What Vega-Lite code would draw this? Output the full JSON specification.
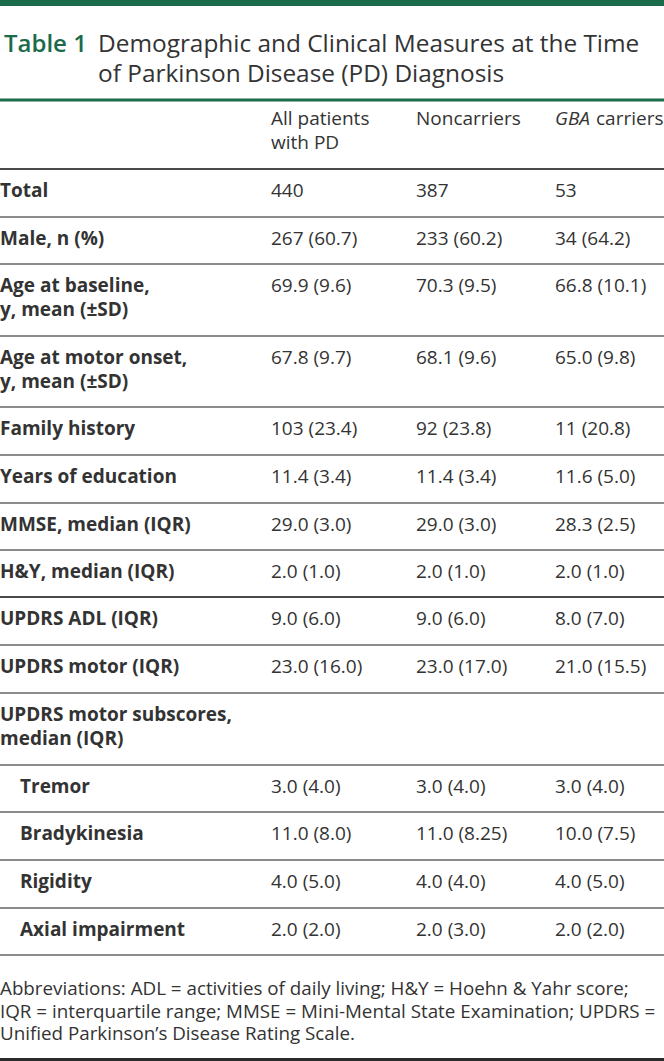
{
  "$schema": "https://vega.github.io/schema/vega-lite/v6.json",
  "width": 664,
  "height": 1061,
  "padding": 0,
  "autosize": {"type": "none"},
  "background": "white",
  "config": {"view": {"stroke": null}, "text": {"font": "Open Sans", "color": "#333333"}},
  "datasets": {
    "rules": [
      {"r": -5, "kind": "topbar"},
      {"r": -3, "kind": "titlerule"},
      {"r": 0, "kind": "head"},
      {"r": 1, "kind": "row"},
      {"r": 2, "kind": "row"},
      {"r": 3, "kind": "row"},
      {"r": 4, "kind": "row"},
      {"r": 5, "kind": "row"},
      {"r": 6, "kind": "row"},
      {"r": 7, "kind": "row"},
      {"r": 8, "kind": "head"},
      {"r": 9, "kind": "row"},
      {"r": 10, "kind": "row"},
      {"r": 11, "kind": "row"},
      {"r": 12, "kind": "row"},
      {"r": 13, "kind": "row"},
      {"r": 14, "kind": "row"},
      {"r": 15, "kind": "row"},
      {"r": 17, "kind": "bottom"}
    ],
    "title": [
      {"r": -4, "c": 0, "part": "num", "t": "Table 1"},
      {"r": -4, "c": 0, "part": "caption", "t": "Demographic and Clinical Measures at the Time\nof Parkinson Disease (PD) Diagnosis"}
    ],
    "header": [
      {"r": -2, "c": 1, "part": "plain", "t": "All patients\nwith PD"},
      {"r": -2, "c": 2, "part": "plain", "t": "Noncarriers"},
      {"r": -2, "c": 3, "part": "gene", "t": "GBA"},
      {"r": -2, "c": 3, "part": "suffix", "t": "carriers"}
    ],
    "cells": [
      {"r": 0, "c": 0, "kind": "label", "t": "Total"},
      {"r": 0, "c": 1, "kind": "value", "t": "440"},
      {"r": 0, "c": 2, "kind": "value", "t": "387"},
      {"r": 0, "c": 3, "kind": "value", "t": "53"},
      {"r": 1, "c": 0, "kind": "label", "t": "Male, n (%)"},
      {"r": 1, "c": 1, "kind": "value", "t": "267 (60.7)"},
      {"r": 1, "c": 2, "kind": "value", "t": "233 (60.2)"},
      {"r": 1, "c": 3, "kind": "value", "t": "34 (64.2)"},
      {"r": 2, "c": 0, "kind": "label", "t": "Age at baseline,\ny, mean (±SD)"},
      {"r": 2, "c": 1, "kind": "value", "t": "69.9 (9.6)"},
      {"r": 2, "c": 2, "kind": "value", "t": "70.3 (9.5)"},
      {"r": 2, "c": 3, "kind": "value", "t": "66.8 (10.1)"},
      {"r": 3, "c": 0, "kind": "label", "t": "Age at motor onset,\ny, mean (±SD)"},
      {"r": 3, "c": 1, "kind": "value", "t": "67.8 (9.7)"},
      {"r": 3, "c": 2, "kind": "value", "t": "68.1 (9.6)"},
      {"r": 3, "c": 3, "kind": "value", "t": "65.0 (9.8)"},
      {"r": 4, "c": 0, "kind": "label", "t": "Family history"},
      {"r": 4, "c": 1, "kind": "value", "t": "103 (23.4)"},
      {"r": 4, "c": 2, "kind": "value", "t": "92 (23.8)"},
      {"r": 4, "c": 3, "kind": "value", "t": "11 (20.8)"},
      {"r": 5, "c": 0, "kind": "label", "t": "Years of education"},
      {"r": 5, "c": 1, "kind": "value", "t": "11.4 (3.4)"},
      {"r": 5, "c": 2, "kind": "value", "t": "11.4 (3.4)"},
      {"r": 5, "c": 3, "kind": "value", "t": "11.6 (5.0)"},
      {"r": 6, "c": 0, "kind": "label", "t": "MMSE, median (IQR)"},
      {"r": 6, "c": 1, "kind": "value", "t": "29.0 (3.0)"},
      {"r": 6, "c": 2, "kind": "value", "t": "29.0 (3.0)"},
      {"r": 6, "c": 3, "kind": "value", "t": "28.3 (2.5)"},
      {"r": 7, "c": 0, "kind": "label", "t": "H&Y, median (IQR)"},
      {"r": 7, "c": 1, "kind": "value", "t": "2.0 (1.0)"},
      {"r": 7, "c": 2, "kind": "value", "t": "2.0 (1.0)"},
      {"r": 7, "c": 3, "kind": "value", "t": "2.0 (1.0)"},
      {"r": 8, "c": 0, "kind": "label", "t": "UPDRS ADL (IQR)"},
      {"r": 8, "c": 1, "kind": "value", "t": "9.0 (6.0)"},
      {"r": 8, "c": 2, "kind": "value", "t": "9.0 (6.0)"},
      {"r": 8, "c": 3, "kind": "value", "t": "8.0 (7.0)"},
      {"r": 9, "c": 0, "kind": "label", "t": "UPDRS motor (IQR)"},
      {"r": 9, "c": 1, "kind": "value", "t": "23.0 (16.0)"},
      {"r": 9, "c": 2, "kind": "value", "t": "23.0 (17.0)"},
      {"r": 9, "c": 3, "kind": "value", "t": "21.0 (15.5)"},
      {"r": 10, "c": 0, "kind": "label", "t": "UPDRS motor subscores,\nmedian (IQR)"},
      {"r": 11, "c": 0, "kind": "sub", "t": "Tremor"},
      {"r": 11, "c": 1, "kind": "value", "t": "3.0 (4.0)"},
      {"r": 11, "c": 2, "kind": "value", "t": "3.0 (4.0)"},
      {"r": 11, "c": 3, "kind": "value", "t": "3.0 (4.0)"},
      {"r": 12, "c": 0, "kind": "sub", "t": "Bradykinesia"},
      {"r": 12, "c": 1, "kind": "value", "t": "11.0 (8.0)"},
      {"r": 12, "c": 2, "kind": "value", "t": "11.0 (8.25)"},
      {"r": 12, "c": 3, "kind": "value", "t": "10.0 (7.5)"},
      {"r": 13, "c": 0, "kind": "sub", "t": "Rigidity"},
      {"r": 13, "c": 1, "kind": "value", "t": "4.0 (5.0)"},
      {"r": 13, "c": 2, "kind": "value", "t": "4.0 (4.0)"},
      {"r": 13, "c": 3, "kind": "value", "t": "4.0 (5.0)"},
      {"r": 14, "c": 0, "kind": "sub", "t": "Axial impairment"},
      {"r": 14, "c": 1, "kind": "value", "t": "2.0 (2.0)"},
      {"r": 14, "c": 2, "kind": "value", "t": "2.0 (3.0)"},
      {"r": 14, "c": 3, "kind": "value", "t": "2.0 (2.0)"}
    ],
    "footer": [
      {"r": 16, "c": 0, "t": "Abbreviations: ADL = activities of daily living; H&Y = Hoehn & Yahr score;\nIQR = interquartile range; MMSE = Mini-Mental State Examination; UPDRS =\nUnified Parkinson’s Disease Rating Scale."}
    ]
  },
  "encoding": {
    "y": {"field": "r", "type": "quantitative", "axis": null,
      "scale": {"domain": [-5, -4, -3, -2, 0, 1, 2, 3, 4, 5, 6, 7, 8, 9, 10, 11, 12, 13, 14, 15, 16, 17],
        "range": [3, 52, 100, 125, 169, 217, 264, 336, 407, 455, 503, 550, 597, 645, 693, 765, 812, 860, 908, 955, 995, 1059.5],
        "zero": false, "nice": false}}
  },
  "layer": [
    {
      "data": {"name": "rules"},
      "transform": [{"filter": "datum.kind == 'topbar'"}],
      "mark": {"type": "rule", "color": "#1b6b4b", "strokeWidth": 6},
      "encoding": {}
    },
    {
      "data": {"name": "rules"},
      "transform": [{"filter": "datum.kind == 'titlerule'"}],
      "mark": {"type": "rule", "color": "#1b6b4b", "strokeWidth": 3},
      "encoding": {}
    },
    {
      "data": {"name": "rules"},
      "transform": [{"filter": "datum.kind == 'head'"}],
      "mark": {"type": "rule", "color": "#4a4a4a", "strokeWidth": 2},
      "encoding": {}
    },
    {
      "data": {"name": "rules"},
      "transform": [{"filter": "datum.kind == 'row'"}],
      "mark": {"type": "rule", "color": "#666666", "strokeWidth": 1.6},
      "encoding": {}
    },
    {
      "data": {"name": "rules"},
      "transform": [{"filter": "datum.kind == 'bottom'"}],
      "mark": {"type": "rule", "color": "#2b2b2b", "strokeWidth": 3},
      "encoding": {}
    },
    {
      "encoding": {
        "x": {"field": "c", "type": "quantitative", "axis": null,
          "scale": {"domain": [0, 1, 2, 3, 4], "range": [0, 271, 416, 555, 664], "zero": false, "nice": false}}
      },
      "layer": [
        {
          "data": {"name": "title"},
          "transform": [{"filter": "datum.part == 'num'"}],
          "mark": {"type": "text", "align": "left", "baseline": "alphabetic", "fontSize": 24, "fontWeight": 600, "color": "#1b6b4b", "dx": 4},
          "encoding": {"text": {"field": "t"}}
        },
        {
          "data": {"name": "title"},
          "transform": [{"filter": "datum.part == 'caption'"}],
          "mark": {"type": "text", "align": "left", "baseline": "alphabetic", "fontSize": 24.4, "lineBreak": "\n", "lineHeight": 30, "dx": 98},
          "encoding": {"text": {"field": "t"}}
        },
        {
          "data": {"name": "header"},
          "transform": [{"filter": "datum.part == 'plain'"}],
          "mark": {"type": "text", "align": "left", "baseline": "alphabetic", "fontSize": 19, "lineBreak": "\n", "lineHeight": 24},
          "encoding": {"text": {"field": "t"}}
        },
        {
          "data": {"name": "header"},
          "transform": [{"filter": "datum.part == 'gene'"}],
          "mark": {"type": "text", "align": "left", "baseline": "alphabetic", "fontSize": 19, "fontStyle": "italic"},
          "encoding": {"text": {"field": "t"}}
        },
        {
          "data": {"name": "header"},
          "transform": [{"filter": "datum.part == 'suffix'"}],
          "mark": {"type": "text", "align": "left", "baseline": "alphabetic", "fontSize": 19, "dx": 41},
          "encoding": {"text": {"field": "t"}}
        },
        {
          "data": {"name": "cells"},
          "transform": [{"filter": "datum.kind == 'label'"}],
          "mark": {"type": "text", "align": "left", "baseline": "alphabetic", "fontSize": 19, "fontWeight": "bold", "lineBreak": "\n", "lineHeight": 24, "dy": 28},
          "encoding": {"text": {"field": "t"}}
        },
        {
          "data": {"name": "cells"},
          "transform": [{"filter": "datum.kind == 'sub'"}],
          "mark": {"type": "text", "align": "left", "baseline": "alphabetic", "fontSize": 19, "fontWeight": "bold", "dx": 20, "dy": 28},
          "encoding": {"text": {"field": "t"}}
        },
        {
          "data": {"name": "cells"},
          "transform": [{"filter": "datum.kind == 'value'"}],
          "mark": {"type": "text", "align": "left", "baseline": "alphabetic", "fontSize": 19, "dy": 28},
          "encoding": {"text": {"field": "t"}}
        },
        {
          "data": {"name": "footer"},
          "mark": {"type": "text", "align": "left", "baseline": "alphabetic", "fontSize": 18.8, "lineBreak": "\n", "lineHeight": 22.5},
          "encoding": {"text": {"field": "t"}}
        }
      ]
    }
  ]
}
